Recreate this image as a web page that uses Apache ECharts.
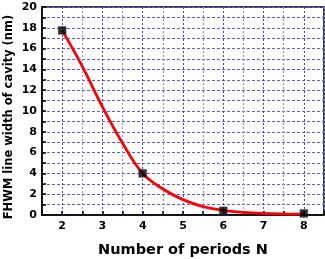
<!DOCTYPE html>
<html><head><meta charset="utf-8">
<script src="https://cdn.jsdelivr.net/npm/echarts@6/dist/echarts.min.js"></script>
<style>html,body{margin:0;padding:0;background:#fff}#c{width:325px;height:259px}</style>
</head><body><div id="c"></div>
<script>
// measured data points
var periodsN = [2, 4, 6, 8];
var fwhmNm = [17.75, 4.0, 0.4, 0.15];
// fitted red curve
var fitN = [2, 2.5, 3, 3.5, 4, 4.5, 5, 5.5, 6, 6.5, 7, 7.5, 8];
var fitFwhm = [17.75, 14.3, 10.4, 6.9, 4.0, 2.5, 1.48, 0.8, 0.45, 0.26, 0.15, 0.1, 0.08];
var xTickLabels = [2, 3, 4, 5, 6, 7, 8];
var yTickLabels = [0, 2, 4, 6, 8, 10, 12, 14, 16, 18, 20];
var xTitle = 'Number of periods N';
var yTitle = 'FHWM line width of cavity (nm)';

var font = 'DejaVu Sans';
var chart = echarts.init(document.getElementById('c'), null, {renderer: 'canvas'});
chart.setOption({
  animation: false,
  backgroundColor: '#fff',
  grid: {left: 42, right: 1, top: 7, bottom: 44, outerBoundsMode: 'none', containLabel: false,
    show: true, borderColor: '#000', borderWidth: 1.5, backgroundColor: 'transparent'},
  graphic: [{
    type: 'text', x: 9, y: 117, rotation: Math.PI / 2,
    style: {text: yTitle, fontFamily: font, fontWeight: 'bold', fontSize: 11.5, fill: '#000',
      align: 'center', verticalAlign: 'middle'}
  }],
  xAxis: {
    type: 'value', min: 1.5, max: 8.5, interval: 0.5,
    name: xTitle, nameLocation: 'middle', nameGap: 28,
    nameTextStyle: {fontFamily: font, fontWeight: 'bold', fontSize: 14.5, color: '#000'},
    axisLine: {show: true, onZero: false, lineStyle: {color: '#000', width: 1.5}},
    axisTick: {show: true, inside: true, length: 4, lineStyle: {color: '#000', width: 1.5}},
    axisLabel: {fontFamily: font, fontWeight: 'bold', fontSize: 11, color: '#000', margin: 6,
      formatter: function (v) { return xTickLabels.indexOf(v) >= 0 ? String(v) : ''; }},
    splitLine: {show: true, lineStyle: {color: ['#8a8aee', '#4444dd'], type: [2, 2], width: 1}}
  },
  yAxis: {
    type: 'value', min: 0, max: 20, interval: 1,
    axisLine: {show: true, lineStyle: {color: '#000', width: 1.5}},
    axisTick: {show: true, inside: true, length: 4, lineStyle: {color: '#000', width: 1.5}},
    axisLabel: {fontFamily: font, fontWeight: 'bold', fontSize: 11, color: '#000', margin: 5,
      formatter: function (v) { return yTickLabels.indexOf(v) >= 0 ? String(v) : ''; }},
    splitLine: {show: true, lineStyle: {color: '#5a5aee', type: [3, 2], width: 1}}
  },
  series: [
    {type: 'line', data: fitN.map(function (x, i) { return [x, fitFwhm[i]]; }),
      smooth: 0.4, showSymbol: false, symbol: 'none', z: 3,
      lineStyle: {color: '#ff0000', width: 2.8}},
    {type: 'scatter', data: periodsN.map(function (x, i) { return [x, fwhmNm[i]]; }),
      symbol: 'rect', symbolSize: 8, z: 4,
      itemStyle: {color: '#000', borderColor: '#555', borderWidth: 0.5}}
  ]
});
</script></body></html>
